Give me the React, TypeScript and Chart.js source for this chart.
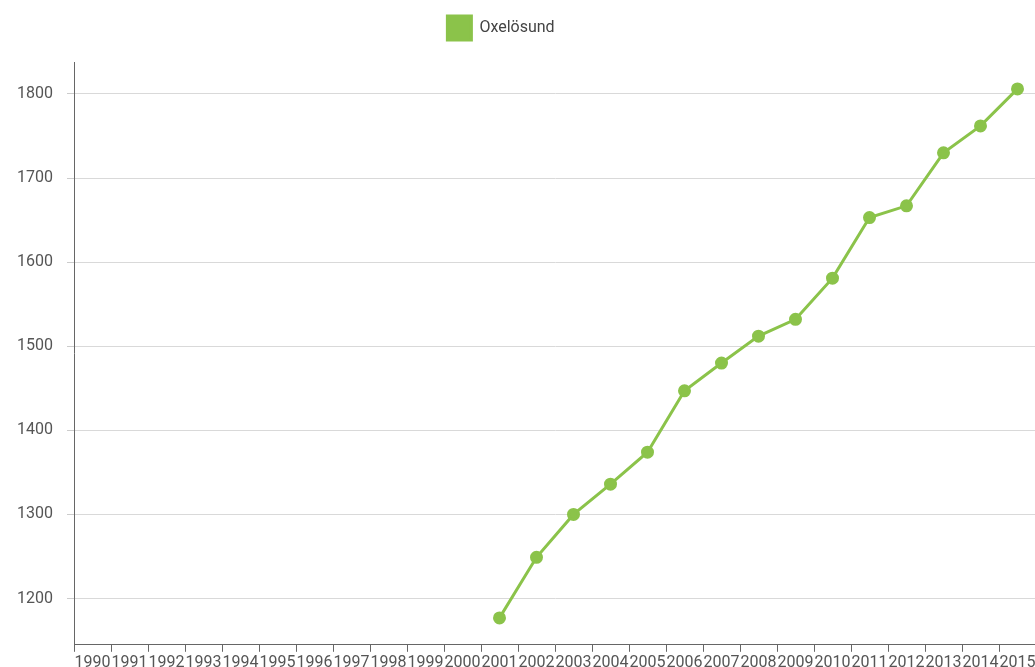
import React, { useEffect, useRef } from "react";
import { Chart, registerables } from "chart.js";

Chart.register(...registerables);

const years: string[] = [
  "1990", "1991", "1992", "1993", "1994", "1995", "1996", "1997", "1998", "1999",
  "2000", "2001", "2002", "2003", "2004", "2005", "2006", "2007", "2008", "2009",
  "2010", "2011", "2012", "2013", "2014", "2015",
];

const oxelosund: (number | null)[] = [
  null, null, null, null, null, null, null, null, null, null,
  null, 1177, 1249, 1300, 1336, 1374, 1447, 1480, 1512, 1532,
  1581, 1653, 1667, 1730, 1762, 1806,
];

const yTicks: number[] = [1200, 1300, 1400, 1500, 1600, 1700, 1800];

const seriesLabel = "Oxelösund";
const green = "#8bc34a";

const legendHeightPlugin = {
  id: "legendHeight",
  beforeInit(chart: any) {
    const legend = chart.legend;
    if (!legend) return;
    const origFit = legend.fit;
    legend.fit = function () {
      origFit.call(this);
      this.height = 56;
    };
  },
};

export default function App() {
  const ref = useRef<HTMLCanvasElement | null>(null);

  useEffect(() => {
    if (!ref.current) return;
    const chart = new Chart(ref.current, {
      type: "line",
      data: {
        labels: years,
        datasets: [
          {
            label: seriesLabel,
            data: oxelosund,
            borderColor: green,
            backgroundColor: green,
            pointBackgroundColor: green,
            pointBorderColor: green,
            borderWidth: 3,
            pointRadius: 5,
            spanGaps: false,
            tension: 0,
            clip: false,
          },
        ],
      },
      plugins: [legendHeightPlugin],
      options: {
        animation: false,
        responsive: false,
        maintainAspectRatio: false,
        layout: { autoPadding: false, padding: { top: 6, right: 0, left: 0, bottom: 0 } },
        plugins: {
          legend: {
            display: true,
            position: "top",
            align: "center",
            labels: {
              boxWidth: 24,
              boxHeight: 24,
              padding: 10,
              color: "#444",
              font: { family: "Roboto", size: 16 },
            },
          },
          tooltip: { enabled: false },
        },
        scales: {
          x: {
            type: "category",
            offset: true,
            afterFit(scale: any) {
              scale.paddingLeft = 0;
              scale.paddingRight = 0;
            },
            grid: {
              offset: true,
              drawOnChartArea: false,
              drawTicks: true,
              tickLength: 7,
              tickColor: "#666",
            },
            border: { color: "#666", width: 1 },
            ticks: {
              autoSkip: false,
              maxRotation: 0,
              minRotation: 0,
              padding: 2,
              color: "#555",
              font: { family: "Roboto", size: 16 },
            },
          },
          y: {
            type: "linear",
            min: 1145,
            max: 1838,
            afterBuildTicks(scale: any) {
              scale.ticks = yTicks.map((v) => ({ value: v }));
            },
            afterFit(scale: any) {
              scale.width = 108;
            },
            grid: {
              color: "#d9d9d9",
              tickColor: "#cccccc",
              tickLength: 7,
              drawTicks: true,
            },
            border: { color: "#666", width: 1 },
            ticks: {
              padding: 14,
              color: "#555",
              font: { family: "Roboto", size: 16 },
              callback: (v: any) => String(v),
            },
          },
        },
      },
    });
    return () => chart.destroy();
  }, []);

  return (
    <div
      style={{
        position: "fixed",
        left: -34,
        top: 0,
        width: 1070,
        height: 675,
        background: "#fff",
      }}
    >
      <canvas ref={ref} width={1070} height={675} style={{ display: "block" }} />
    </div>
  );
}
